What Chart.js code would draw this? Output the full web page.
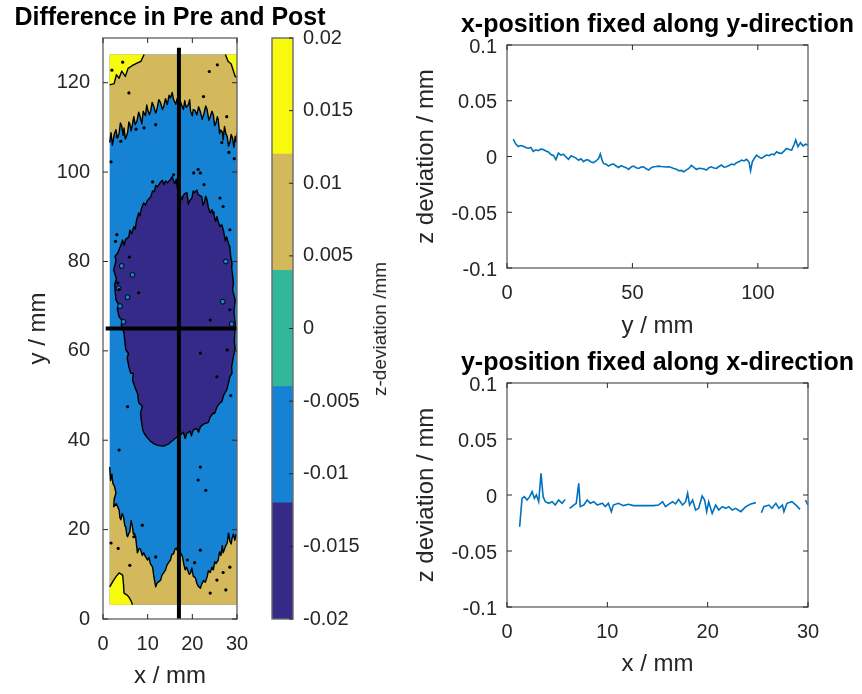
<!DOCTYPE html>
<html>
<head>
<meta charset="utf-8">
<script src="https://cdn.jsdelivr.net/npm/chart.js@4.4.1/dist/chart.umd.min.js"></script>
<style>
  html, body { margin: 0; padding: 0; background: #fff; }
  #wrap { position: relative; width: 862px; height: 694px; overflow: hidden; }
  #wrap canvas { position: absolute; }
  #cbLabel {
    position: absolute; left: 380px; top: 329px;
    transform: translate(-50%, -50%) rotate(-90deg);
    font: 19px 'Liberation Sans', Arial, sans-serif; color: #262626; white-space: nowrap;
  }
</style>
</head>
<body>
<div id="wrap">
  <canvas id="mapChart" width="340" height="694" style="left:0;top:0"></canvas>
  <canvas id="cbarChart" width="150" height="694" style="left:260px;top:0"></canvas>
  <canvas id="alongYChart" width="462" height="345" style="left:400px;top:0"></canvas>
  <canvas id="alongXChart" width="462" height="354" style="left:400px;top:340px"></canvas>
  <div id="cbLabel">z-deviation /mm</div>
</div>
<script>
// ---------- data ----------
// contour levels (z deviation, mm) and colours of the filled bands
const levelEdges = [-0.02, -0.012, -0.004, 0.004, 0.012, 0.02];
const levelColors = ['#352a87', '#1582d4', '#33b79c', '#d3b85c', '#f8fa0e'];

// scanned area (mm)
const scanX = [1.5, 30];
const scanY = [3.2, 126.3];

// contour lines (x mm, y mm)
const topTanEdge = [[1.5,106.6],[1.8,108.8],[2.1,106.0],[2.5,108.4],[2.9,109.5],[3.2,107.6],[3.6,108.6],[3.9,111.0],[4.2,110.3],[4.5,108.2],[4.7,109.9],[5.0,107.4],[5.2,107.9],[5.5,108.8],[5.8,111.2],[6.0,110.8],[6.3,109.2],[6.5,110.2],[6.9,112.4],[7.2,110.6],[7.6,111.4],[8.0,113.4],[8.4,112.1],[8.7,110.8],[9.0,113.6],[9.5,112.6],[9.8,115.0],[10,114],[10.4,112.8],[10.7,113.8],[11.0,115.6],[11.4,114.6],[11.8,113.2],[12.1,114.2],[12.5,116.2],[12.9,115.5],[13.3,114.0],[13.6,114.7],[14.0,116.4],[14.4,115.1],[14.8,117.2],[15.1,116.6],[15.5,117.8],[15.8,116.2],[16.3,115.2],[16.6,116.4],[16.9,114.6],[17.3,115.8],[17.5,115.3],[18,114],[18.3,116.0],[18.6,114.5],[19.1,115],[19.4,116.2],[19.6,113.6],[20.0,112.6],[20.2,114],[20.6,113.8],[21.0,112.8],[21.4,114.6],[21.8,113.5],[22.2,111.8],[22.6,113.1],[23.0,114.8],[23.3,114],[23.7,111.6],[24.0,112.4],[24.4,113.6],[24.7,112.8],[25.0,110.4],[25.3,111.0],[25.6,112.4],[25.8,111.7],[26.1,108.6],[26.3,109.4],[26.7,109],[26.9,107.2],[27.2,110.2],[27.5,108.6],[27.8,108],[28.1,105.8],[28.4,106.6],[28.7,108.4],[29.0,107.6],[29.3,105.6],[29.6,108],[29.8,106.8],[30,108.8]];
const bottomTanEdge = [[1.5,34],[1.7,31.0],[2.0,32.4],[2.2,30.4],[2.6,29.6],[2.9,28.2],[2.5,26.8],[2.4,25.1],[3.0,25.8],[3.6,24.4],[3.8,22.6],[4.0,22.2],[4.3,23.6],[4.6,22.8],[4.9,20.8],[5.1,20.6],[5.3,18.9],[5.5,18.4],[5.8,19.2],[6.0,19.5],[6.3,22.0],[6.6,20.6],[6.8,19.0],[7.0,19.2],[7.3,18.4],[7.5,16.6],[7.7,14.8],[8.1,15.8],[8.4,15.6],[8.8,14.2],[9.1,14.8],[9.6,13.8],[10,13.2],[10.3,13.8],[10.6,12.4],[11.1,11.6],[11.4,9.4],[11.8,7.2],[12.1,8.0],[12.3,8.2],[12.9,8.7],[13.2,9.8],[13.5,10.2],[14,11],[14.3,12.0],[14.6,12.5],[15.1,13.2],[15.4,14.4],[15.8,14.6],[16.1,15.6],[16.4,15.9],[16.8,15.0],[17.1,14.8],[17.5,14.6],[17.8,13.9],[18.1,12.2],[18.4,11],[18.7,11.6],[19.0,10.8],[19.3,10.0],[19.6,10.3],[19.9,11.4],[20.2,9.6],[20.7,9.2],[21.0,8.0],[21.3,7.4],[21.8,6.9],[22.1,7.8],[22.5,8.6],[22.9,8.2],[23.3,9.4],[23.6,10.8],[24.0,10.4],[24.4,11.6],[24.7,11],[25.0,12.8],[25.3,12.4],[25.8,13.2],[26.1,15.0],[26.4,14.2],[26.7,16.4],[26.9,14.8],[27.2,15.6],[27.4,16.2],[27.8,17],[28.1,19.2],[28.4,17.4],[28.7,16.8],[28.9,18.1],[29.2,19.0],[29.5,17.6],[29.8,18.9],[30,18.4]];
const darkCoreEdge = [[10.7,94.5],[11.1,95.8],[11.5,95.6],[11.8,97.0],[12.2,96.7],[12.9,97.8],[13.3,98.2],[13.6,97.2],[14.0,98.0],[14.4,97.6],[15.0,98.2],[15.5,99],[15.8,98.0],[16.1,97.4],[16.4,98.4],[16.6,96.7],[16.9,95.6],[17.2,95.0],[17.7,93.8],[18.0,94.8],[18.3,95.2],[18.8,95.4],[19.1,92.8],[19.4,93.6],[19.9,94.2],[20.2,95.8],[20.5,95.4],[21,96],[21.3,95.0],[21.6,94.8],[22.1,94.5],[22.4,92.6],[22.7,93.2],[23.0,94.6],[23.3,93.8],[23.6,92.0],[24,90.9],[24.4,91.6],[24.8,90.6],[25.2,89.0],[25.5,90],[25.9,88.6],[26.2,87.8],[26.6,88.2],[27.0,86.8],[27.4,84.6],[27.7,85.5],[28.1,84.0],[28.4,83.3],[28.6,81.0],[28.9,79.4],[28.8,78.8],[29.2,75.2],[29.0,73.6],[29.6,71.4],[29.3,68.8],[29.6,66.0],[29.4,62.0],[29.6,60.4],[29.2,58.7],[28.8,56.4],[28.9,55.0],[28.4,54.2],[28.0,52.4],[27.7,51.3],[27.0,50.0],[26.6,48.6],[26.2,48.4],[25.5,47.4],[25.0,46.0],[24.7,46.1],[24.0,45.2],[23.6,44.0],[23.3,43.9],[22.5,43.6],[21.8,43],[21.4,41.8],[21.0,42.6],[20.2,42.3],[19.8,41.0],[19.5,42.0],[18.8,41.6],[18.4,40.4],[18.0,41.8],[17.3,41.2],[16.6,40.8],[15.8,40.1],[14.7,39.2],[13.6,38.7],[12.5,38.8],[11.4,39.2],[10.6,39.8],[10,40.5],[9.3,41.4],[8.9,42.3],[8.6,44.2],[8.4,46.1],[8.8,47.6],[8.0,48.4],[7.7,50.6],[7.4,51.2],[7.1,52.0],[6.6,53.5],[6.8,55.0],[6.2,55.0],[5.8,56.4],[5.4,58.4],[5.7,59.4],[5.1,60.2],[4.9,62.0],[4.7,64],[4.1,65.8],[4.3,66.8],[3.6,67.6],[3.2,69.4],[3.5,70.4],[2.9,71.4],[2.6,74.8],[3.0,76.2],[2.4,78.1],[2.9,80.2],[2.7,81.2],[3.3,81.9],[3.9,83.4],[4.4,84.8],[4.7,83.6],[5.1,85.0],[5.8,85.5],[6.0,87.0],[6.4,86.2],[6.9,87.8],[7.2,87.2],[7.5,89.2],[8,90.9],[8.3,90.2],[8.6,91.8],[9.1,93.1],[9.5,92.6],[9.9,93.6]];
const yellowTopLeftEdge = [[1.5,119.5],[2.5,119.8],[3.0,121.8],[3.6,121.0],[4.2,122.6],[5.0,121.4],[5.6,123.2],[6.5,123.8],[7.6,124.4],[8.5,124.8],[9.2,126.3]];
const yellowTopRightEdge = [[27.4,126.3],[28.0,124.8],[28.7,124.2],[29.2,122.6],[29.6,121.4],[30,121.2]];
const yellowBottomLeftEdge = [[1.5,7.2],[2.4,8.7],[3.0,9.6],[3.6,10.3],[4.4,9.8],[4.6,7.6],[4.7,5.8],[5.3,5.4],[5.8,4.9],[6.3,4.0],[6.6,3.2]];

// small isolated contour specks
const speckles = [[5.8,117.7],[9.2,109.9],[11.8,110.6],[22.5,116.9],[27.7,112.4],[1.8,102.3],[11.1,97.8],[20.3,99.8],[21.8,99.8],[15.8,99.4],[24.7,90.9],[26.2,94.2],[28.4,87.1],[3.6,73.7],[8,73],[24,66.9],[28.4,69.2],[3.3,75.2],[3.6,37.8],[21.8,34],[21.3,31.1],[11.8,13.9],[18.9,13.2],[21.8,15.4],[25.5,8.7],[24,5.8],[28.4,11.6],[6.9,18.4],[1.8,17],[25.5,54.2],[21.8,59.5],[5.5,47.5],[3.2,108.0],[4.0,106.9],[7.4,109.6],[26.6,106.6],[28.2,104.4],[29.4,103.0],[21.3,100.6],[22.6,97.2],[26.9,92.3],[2.8,84.5],[3.1,86.0],[5.9,81.0],[27.8,60.2],[28.6,50.0],[23.0,28.8],[20.5,12.6],[26.9,10.4],[27.5,6.5],[3.4,15.8],[6.0,12.0],[8.8,21.0],[2.0,122.8],[4.4,124.6],[23.8,122.5],[25.6,124.0]];
const blueIslands = [[3.5,74],[4.2,79],[3.8,70],[5.5,72],[27.5,80],[28.8,66],[26.8,71],[6.6,77],[4.6,66.5]];

// section lines through the map (mm)
const fixedX = 17;
const fixedXSpan = [0, 127.8];
const fixedY = 65;
const fixedYSpan = [0.6, 30];

// profile at fixed x, along y
const yAlong = [
  2.5,3.5,4.5,5.5,6.5,7.5,8.5,9.5,10.5,11.5,
  12.5,13.5,14.5,15.5,16.5,17.5,18.5,19.5,20.5,21.5,
  22.5,23.5,24.5,25.5,26.5,27.5,28.5,29.5,30.5,31.5,
  32.5,33.5,34.5,35.5,36.5,37.2,38.0,38.5,39.5,40.5,
  41.5,42.5,43.5,44.5,45.5,46.5,47.5,48.5,49.5,50.5,
  51.5,52.5,53.5,54.5,55.5,56.5,57.5,58.5,59.5,60.5,
  61.5,62.5,63.5,64.5,65.5,66.5,67.5,68.5,69.5,70.5,
  71.5,72.5,73.5,74.5,75.5,76.5,77.5,78.5,79.5,80.5,
  81.5,82.5,83.5,84.5,85.5,86.5,87.5,88.5,89.5,90.5,
  91.5,92.5,93.5,94.5,95.5,96.5,97.1,97.8,98.5,99.5,
  100.5,101.5,102.5,103.5,104.5,105.5,106.5,107.5,108.5,109.5,
  110.5,111.5,112.5,113.5,114.5,115.1,116.0,117.0,118.0,119.0,
  120.0];
const zAlongY = [
  0.0155,0.0112,0.0090,0.0098,0.0092,0.0080,0.0074,0.0081,0.0045,0.0060,
  0.0052,0.0066,0.0062,0.0050,0.0040,0.0018,0.0010,-0.0028,0.0030,0.0012,
  0.0020,-0.0004,-0.0025,0.0005,-0.0002,-0.0015,-0.0034,-0.0020,-0.0046,-0.0030,
  -0.0032,-0.0050,-0.0055,-0.0040,-0.0018,0.0022,-0.0040,-0.0062,-0.0070,-0.0086,
  -0.0072,-0.0068,-0.0085,-0.0098,-0.0082,-0.0092,-0.0100,-0.0116,-0.0094,-0.0086,
  -0.0100,-0.0107,-0.0095,-0.0092,-0.0110,-0.0122,-0.0100,-0.0092,-0.0090,-0.0086,
  -0.0090,-0.0092,-0.0094,-0.0092,-0.0098,-0.0107,-0.0115,-0.0128,-0.0125,-0.0137,
  -0.0120,-0.0107,-0.0080,-0.0098,-0.0116,-0.0105,-0.0107,-0.0112,-0.0122,-0.0100,
  -0.0092,-0.0104,-0.0107,-0.0090,-0.0077,-0.0095,-0.0092,-0.0080,-0.0068,-0.0075,
  -0.0056,-0.0048,-0.0032,-0.0040,-0.0026,-0.0050,-0.0128,-0.0047,-0.0020,0.0013,
  -0.0005,-0.0017,0.0000,0.0013,0.0008,0.0022,0.0015,0.0043,0.0030,0.0028,
  0.0050,0.0073,0.0062,0.0058,0.0110,0.0148,0.0088,0.0124,0.0094,0.0110,
  0.0103];

// profile at fixed y, along x (null = no data)
const xAlong = [
  1.26,1.4,1.5,1.73,2.0,2.26,2.5,2.73,2.93,3.16,
  3.39,3.6,3.82,4.16,4.5,4.8,5.15,5.5,5.8,6.0,
  6.25,6.65,6.9,7.15,7.3,7.65,8.0,8.3,8.65,9.0,
  9.5,9.8,10.1,10.4,10.6,11.1,11.6,12.1,12.6,13.1,
  13.6,14.1,14.6,15.1,15.5,15.8,16.1,16.5,16.8,17.1,
  17.5,17.8,18.0,18.2,18.5,18.8,19.1,19.45,19.7,19.9,
  20.1,20.45,20.8,21.1,21.45,21.8,22.1,22.45,22.8,23.3,
  23.8,24.3,24.8,25.1,25.35,25.6,26.1,26.4,26.8,27.1,
  27.45,27.6,27.9,28.4,28.8,29.2,29.5,29.75,30.0];
const zAlongX = [
  -0.0283,-0.0134,-0.0030,-0.0015,-0.0045,-0.0015,0.0030,-0.0030,0.0000,-0.0060,
  0.0193,-0.0015,-0.0060,-0.0074,-0.0060,-0.0090,-0.0045,-0.0074,-0.0039,null,
  -0.0119,-0.0090,-0.0074,0.0104,-0.0104,-0.0090,-0.0045,-0.0074,-0.0060,-0.0090,
  -0.0074,-0.0104,-0.0074,-0.0149,-0.0090,-0.0074,-0.0095,-0.0083,-0.0095,-0.0095,
  -0.0095,-0.0095,-0.0095,-0.0090,-0.0060,-0.0104,-0.0083,-0.0060,-0.0080,-0.0039,
  -0.0090,-0.0060,0.0015,-0.0090,-0.0045,-0.0134,-0.0119,-0.0009,-0.0045,-0.0149,
  -0.0060,-0.0164,-0.0090,-0.0134,-0.0104,-0.0119,-0.0104,-0.0134,-0.0119,-0.0149,
  -0.0104,-0.0080,-0.0068,null,-0.0158,-0.0104,-0.0090,-0.0119,-0.0074,-0.0119,
  -0.0090,-0.0149,-0.0074,-0.0060,-0.0090,-0.0128,null,-0.0045,-0.0090];

// ---------- look ----------
const FONT = "'Liberation Sans', Arial, Helvetica, sans-serif";
const TXT = '#262626';
const LINE_BLUE = '#0072bd';
Chart.defaults.font.family = FONT;
Chart.defaults.color = TXT;

const tickFont = { family: FONT, size: 20 };
const labelFont = { family: FONT, size: 24 };
const titleFont = { family: FONT, size: 25, weight: 'bold' };
// matlab style numbers: 0.1, 0.05, 0, -0.015 ...
const plainNum = v => String(Math.round(v * 1e4) / 1e4);

// bands of the filled contour: edge = contour line, close = points along the scan border
const bands = [
  { level: 3, edge: topTanEdge, close: [[scanX[1], scanY[1]], [scanX[0], scanY[1]]] },
  { level: 3, edge: bottomTanEdge, close: [[scanX[1], scanY[0]], [scanX[0], scanY[0]]] },
  { level: 0, edge: darkCoreEdge, close: [], loop: true },
  { level: 4, edge: yellowTopLeftEdge, close: [[scanX[0], scanY[1]]] },
  { level: 4, edge: yellowTopRightEdge, close: [[scanX[1], scanY[1]]] },
  { level: 4, edge: yellowBottomLeftEdge, close: [[scanX[0], scanY[0]]] }
];

const contourPlugin = {
  id: 'contour',
  beforeDatasetsDraw(chart) {
    const { ctx, chartArea: a, scales: { x, y } } = chart;
    const px = p => [x.getPixelForValue(p[0]), y.getPixelForValue(p[1])];
    const trace = pts => pts.forEach((p, i) => {
      const [u, v] = px(p);
      if (i) ctx.lineTo(u, v); else ctx.moveTo(u, v);
    });
    ctx.save();
    ctx.beginPath();
    ctx.rect(a.left, a.top, a.right - a.left, a.bottom - a.top);
    ctx.clip();
    const [x0, y0] = px([scanX[0], scanY[0]]);
    const [x1, y1] = px([scanX[1], scanY[1]]);
    ctx.fillStyle = levelColors[1];
    ctx.fillRect(x0, y1, x1 - x0, y0 - y1);
    bands.forEach(b => {
      ctx.beginPath();
      trace(b.edge.concat(b.close));
      ctx.closePath();
      ctx.fillStyle = levelColors[b.level];
      ctx.fill();
    });
    ctx.strokeStyle = '#000';
    ctx.lineWidth = 1.4;
    ctx.lineJoin = 'round';
    bands.forEach(b => {
      ctx.beginPath();
      trace(b.edge);
      if (b.loop) ctx.closePath();
      ctx.stroke();
    });
    ctx.restore();
  }
};

// title centred over the plot box but allowed to be wider than it
const wideTitle = {
  id: 'wideTitle',
  afterLayout(chart) {
    const t = chart.titleBlock;
    if (!t) return;
    const c = (chart.chartArea.left + chart.chartArea.right) / 2;
    t.left = c - 300;
    t.right = c + 300;
    t.width = 600;
  }
};

// MATLAB-like box with inward ticks
const framePlugin = {
  id: 'frame',
  afterDatasetsDraw(chart, args, opts) {
    const { ctx, chartArea: a, scales } = chart;
    const L = opts.tick || 5;
    ctx.save();
    ctx.strokeStyle = opts.color || '#6a6a6a';
    ctx.lineWidth = opts.width || 1.4;
    ctx.strokeRect(a.left, a.top, a.right - a.left, a.bottom - a.top);
    ctx.strokeStyle = TXT;
    ctx.lineWidth = 1;
    ctx.beginPath();
    if (opts.xTicks) {
      scales.x.ticks.forEach(t => {
        const p = scales.x.getPixelForValue(t.value);
        ctx.moveTo(p, a.bottom); ctx.lineTo(p, a.bottom - L);
        ctx.moveTo(p, a.top); ctx.lineTo(p, a.top + L);
      });
    }
    if (opts.yTicks) {
      scales.y.ticks.forEach(t => {
        const p = scales.y.getPixelForValue(t.value);
        if (opts.yTicks !== 'right') { ctx.moveTo(a.left, p); ctx.lineTo(a.left + L, p); }
        ctx.moveTo(a.right, p); ctx.lineTo(a.right - L, p);
      });
    }
    ctx.stroke();
    ctx.restore();
  }
};

const noGrid = { display: false, drawTicks: false };

// ---------- left: contour map ----------
new Chart(document.getElementById('mapChart'), {
  type: 'scatter',
  data: {
    datasets: [
      {
        label: 'specks', data: speckles.map(p => ({ x: p[0], y: p[1] })),
        pointRadius: 1.6, pointBackgroundColor: '#000', pointBorderWidth: 0
      },
      {
        label: 'islands', data: blueIslands.map(p => ({ x: p[0], y: p[1] })),
        pointRadius: 2.4, pointBackgroundColor: levelColors[1], pointBorderColor: '#000', pointBorderWidth: 1
      },
      {
        label: 'x fixed', data: fixedXSpan.map(v => ({ x: fixedX, y: v })),
        showLine: true, borderColor: '#000', borderWidth: 4, pointRadius: 0
      },
      {
        label: 'y fixed', data: fixedYSpan.map(v => ({ x: v, y: fixedY })),
        showLine: true, borderColor: '#000', borderWidth: 4, pointRadius: 0
      }
    ]
  },
  options: {
    responsive: false, animation: false,
    layout: { padding: { left: 0, right: 103, top: 0, bottom: 0 } },
    plugins: {
      legend: { display: false }, tooltip: { enabled: false },
      title: { display: true, text: 'Difference in Pre and Post', fullSize: false, color: '#000', font: titleFont, padding: { top: 3, bottom: 5 } },
      frame: { xTicks: true, yTicks: true }
    },
    scales: {
      x: {
        type: 'linear', min: 0, max: 30,
        ticks: { stepSize: 10, font: tickFont, padding: 13, maxRotation: 0 },
        grid: noGrid, border: { display: false },
        title: { display: true, text: 'x / mm', font: labelFont, padding: { top: 0, bottom: 3 } },
        afterFit: s => { s.height = 75; }
      },
      y: {
        type: 'linear', min: 0, max: 130,
        ticks: { stepSize: 20, includeBounds: false, font: tickFont, padding: 13 },
        grid: noGrid, border: { display: false },
        title: { display: true, text: 'y / mm', font: labelFont, padding: { top: 24, bottom: 0 } },
        afterFit: s => { s.width = 103; }
      }
    }
  },
  plugins: [contourPlugin, framePlugin, wideTitle]
});

// ---------- colorbar ----------
new Chart(document.getElementById('cbarChart'), {
  type: 'bar',
  data: {
    labels: [''],
    datasets: levelColors.map((c, i) => ({
      data: [[levelEdges[i], levelEdges[i + 1]]],
      backgroundColor: c, borderWidth: 0,
      barPercentage: 1, categoryPercentage: 1, grouped: false
    }))
  },
  options: {
    responsive: false, animation: false,
    layout: { padding: { left: 12, right: 0, top: 38, bottom: 75 } },
    plugins: {
      legend: { display: false }, tooltip: { enabled: false },
      frame: { xTicks: false, yTicks: 'right', tick: 4 }
    },
    scales: {
      x: { display: false },
      y: {
        position: 'right', min: levelEdges[0], max: levelEdges[levelEdges.length - 1],
        ticks: { stepSize: 0.005, font: tickFont, padding: 10, callback: plainNum },
        grid: noGrid, border: { display: false },
        afterFit: s => { s.width = 117; }
      }
    }
  },
  plugins: [framePlugin]
});

// ---------- right: two profiles ----------
function profileChart(id, xs, zs, title, xLabel, xMax, xStep, titlePad, xAxisH, xTitlePadB) {
  return new Chart(document.getElementById(id), {
    type: 'line',
    data: {
      datasets: [{
        data: xs.map((v, i) => ({ x: v, y: zs[i] })),
        borderColor: LINE_BLUE, borderWidth: 1.6, pointRadius: 0, spanGaps: false, tension: 0
      }]
    },
    options: {
      responsive: false, animation: false,
      layout: { padding: { left: 0, right: 54, top: 0, bottom: 0 } },
      plugins: {
        legend: { display: false }, tooltip: { enabled: false },
        title: { display: true, text: title, fullSize: false, color: '#000', font: titleFont, padding: titlePad },
        frame: { xTicks: true, yTicks: true }
      },
      scales: {
        x: {
          type: 'linear', min: 0, max: xMax,
          ticks: { stepSize: xStep, includeBounds: false, font: tickFont, padding: 13, maxRotation: 0 },
          grid: noGrid, border: { display: false },
          title: { display: true, text: xLabel, font: labelFont, padding: { top: 0, bottom: xTitlePadB } },
          afterFit: s => { s.height = xAxisH; }
        },
        y: {
          type: 'linear', min: -0.1, max: 0.1,
          ticks: { stepSize: 0.05, font: tickFont, padding: 10, labelOffset: 2, callback: plainNum },
          grid: noGrid, border: { display: false },
          title: { display: true, text: 'z deviation / mm', font: labelFont, padding: { top: 12, bottom: 0 } },
          afterFit: s => { s.width = 107; }
        }
      }
    },
    plugins: [framePlugin, wideTitle]
  });
}

profileChart('alongYChart', yAlong, zAlongY, 'x-position fixed along y-direction', 'y / mm', 120, 50,
  { top: 10, bottom: 5 }, 77, 4);
profileChart('alongXChart', xAlong, zAlongX, 'y-position fixed along x-direction', 'x / mm', 30, 10,
  { top: 8, bottom: 5 }, 87, 15);
</script>
</body>
</html>
